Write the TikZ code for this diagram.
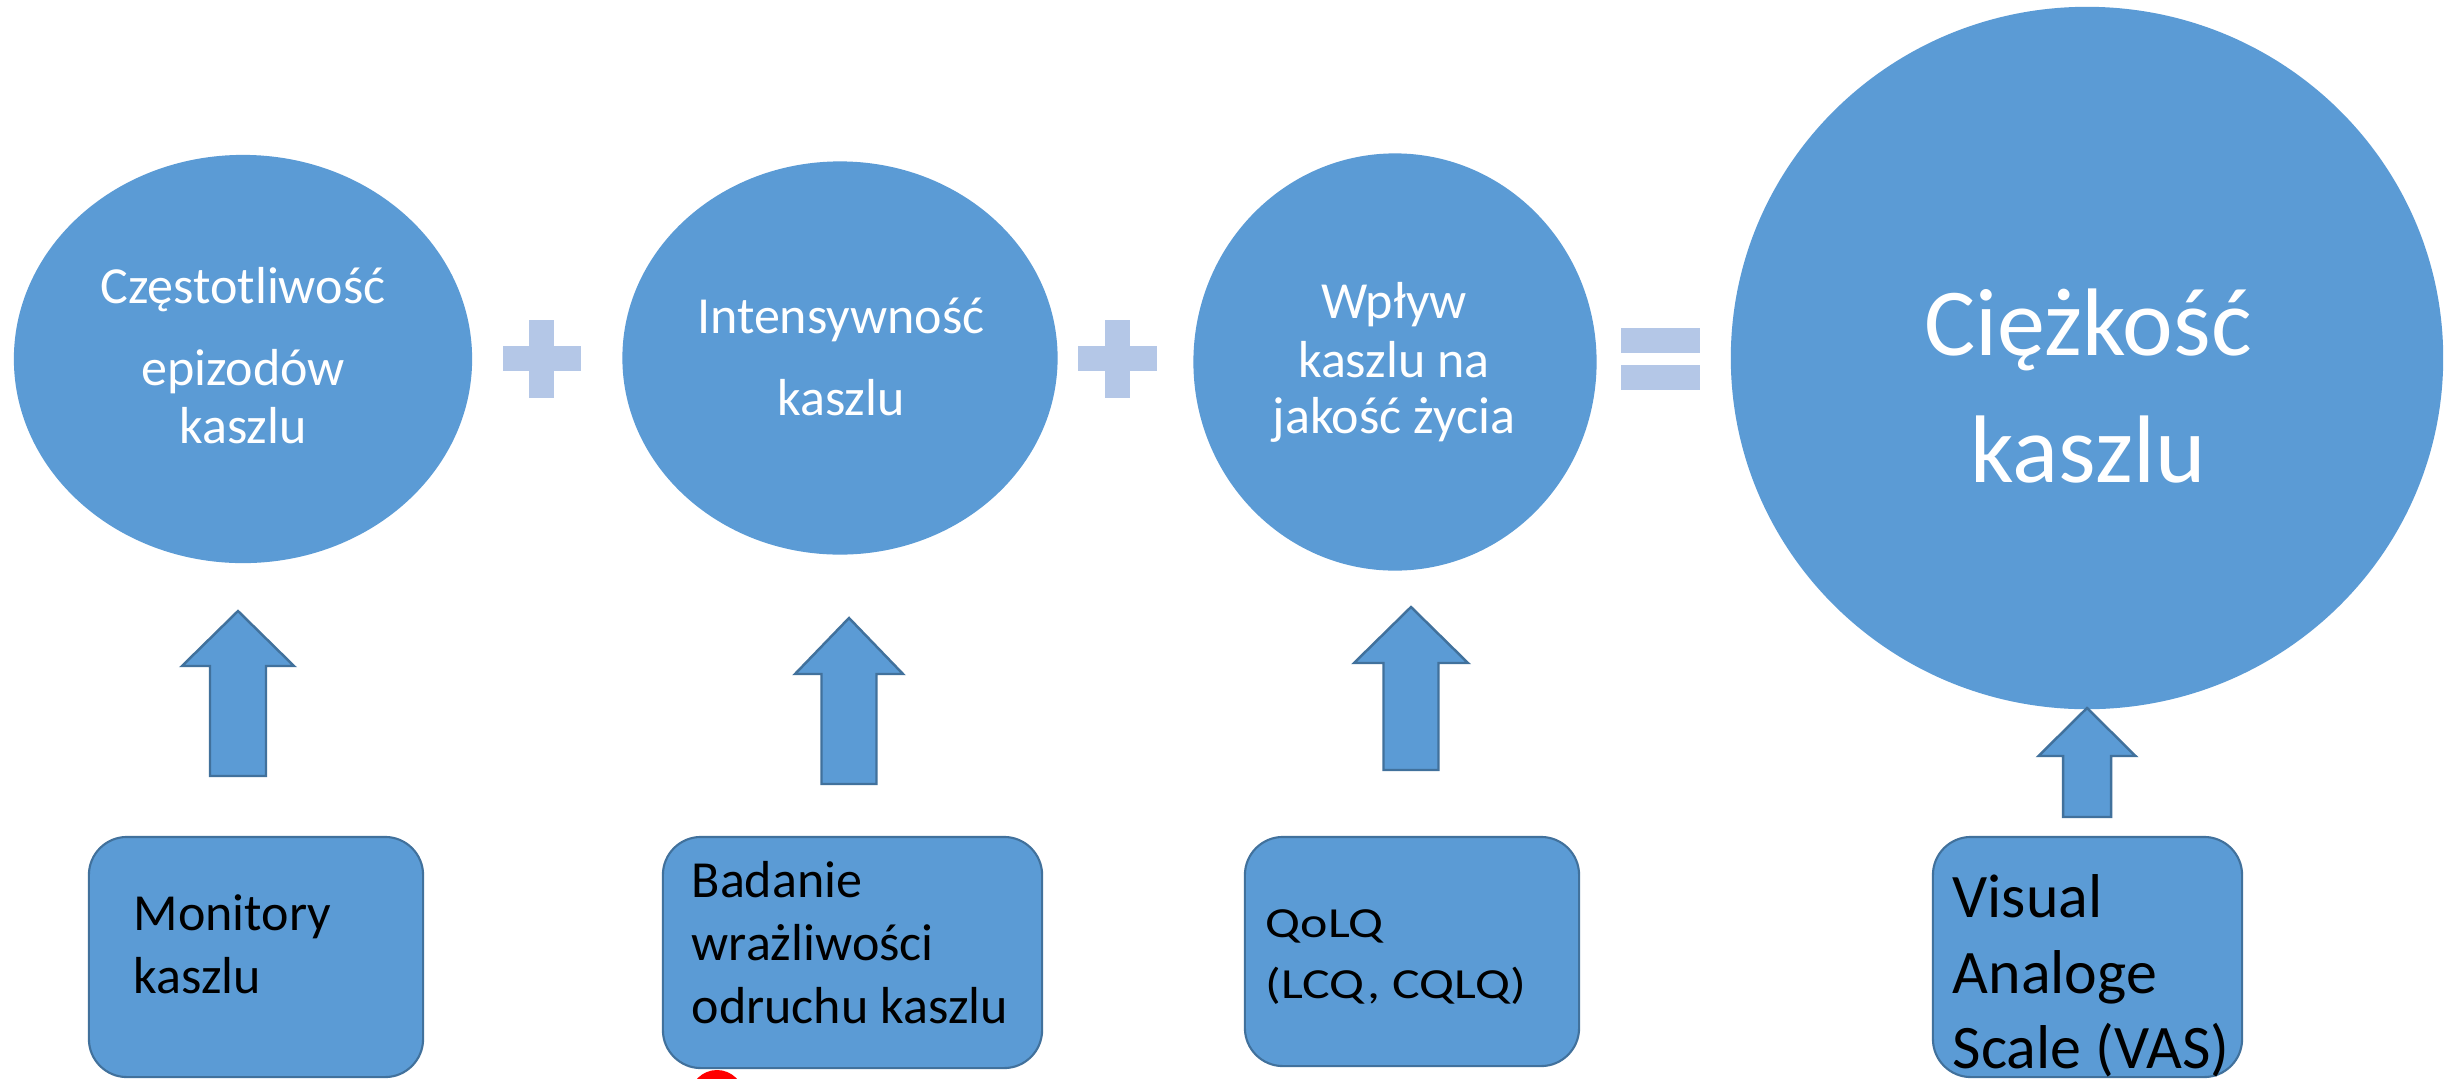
\documentclass[tikz,border=0pt]{standalone}
\usepackage{fontspec}
\setmainfont{Carlito}
\newfontfamily\widefont[FakeStretch=1.21]{Carlito}
\usetikzlibrary{shapes.geometric}
\definecolor{fillblue}{HTML}{5B9BD5}
\definecolor{lineblue}{HTML}{41719C}
\definecolor{pluscol}{HTML}{B4C7E7}
\newcommand{\blockup}[6]{\draw[blockarrow] (#1-#6,#4) -- (#1-#6,#3) -- (#1-#5,#3) -- (#1,#2) -- (#1+#5,#3) -- (#1+#6,#3) -- (#1+#6,#4) -- cycle;}
\begin{document}
\begin{tikzpicture}[x=0.01cm,y=-0.01cm,
  circ/.style={ellipse, fill=fillblue, draw=none, inner sep=0pt},
  boxnode/.style={rectangle, rounded corners=0.38cm, fill=fillblue, draw=lineblue, line width=0.6pt, inner sep=0pt},
  wtxt/.style={anchor=base, text=white, inner sep=0pt, font=\fontsize{14.8}{17}\selectfont},
  bigtxt/.style={anchor=base, text=white, inner sep=0pt, font=\fontsize{27.3}{32}\selectfont},
  btxt/.style={anchor=base west, text=black, inner sep=0pt, font=\fontsize{14.8}{17}\selectfont},
  btxtw/.style={anchor=base west, text=black, inner sep=0pt, font=\widefont\fontsize{12.2}{14}\selectfont},
  btxtl/.style={anchor=base west, text=black, inner sep=0pt, font=\fontsize{17.6}{20}\selectfont},
  blockarrow/.style={fill=fillblue, draw=lineblue, line width=0.7pt, line join=miter},
  signpart/.style={fill=pluscol, draw=none}]
\clip (0,0) rectangle (2448,1078);
\fill[white] (0,0) rectangle (2448,1078);

% circles
\node[circ, minimum width=4.58cm, minimum height=4.08cm] (c1) at (243,359) {};
\node[circ, minimum width=4.35cm, minimum height=3.93cm] (c2) at (840,358) {};
\node[circ, minimum width=4.03cm, minimum height=4.17cm] (c3) at (1395,362) {};
\node[circ, minimum width=7.12cm, minimum height=7.02cm] (c4) at (2087,358) {};

% circle texts
\node[wtxt] (t1a) at (243,303) {Częstotliwość};
\node[wtxt] (t1b) at (243,385) {epizodów};
\node[wtxt] (t1c) at (243,443) {kaszlu};
\node[wtxt] (t2a) at (841,333) {Intensywność};
\node[wtxt] (t2b) at (841,415) {kaszlu};
\node[wtxt] (t3a) at (1394,318) {Wpływ};
\node[wtxt] (t3b) at (1394,377) {kaszlu na};
\node[wtxt] (t3c) at (1394,433) {jakość życia};
\node[bigtxt] (t4a) at (2088,355) {Ciężkość};
\node[bigtxt] (t4b) at (2088,482) {kaszlu};

% plus and equals signs
\fill[signpart] (529,320) rectangle (554,398);
\fill[signpart] (503,346) rectangle (581,371);
\fill[signpart] (1105,320) rectangle (1130,398);
\fill[signpart] (1078,346) rectangle (1157,371);
\fill[signpart] (1621,328) rectangle (1700,353);
\fill[signpart] (1621,365) rectangle (1700,390);

% boxes
\node[boxnode, minimum width=3.34cm, minimum height=2.40cm] (b1) at (256,957) {};
\node[boxnode, minimum width=3.79cm, minimum height=2.31cm] (b2) at (852.5,952.5) {};
\node[boxnode, minimum width=3.34cm, minimum height=2.29cm] (b3) at (1412,951.5) {};
\node[boxnode, minimum width=3.09cm, minimum height=2.40cm] (b4) at (2087.5,957) {};

% box texts
\node[btxt] (m1a) at (133,930) {Monitory};
\node[btxt] (m1b) at (133,993) {kaszlu};
\node[btxt] (m2a) at (691,897) {Badanie};
\node[btxt] (m2b) at (691,960) {wrażliwości};
\node[btxt] (m2c) at (691,1023) {odruchu kaszlu};
\node[btxtw] (m3a) at (1265,937) {QoLQ};
\node[btxtw] (m3b) at (1265,998) {(LCQ, CQLQ)};
\node[btxtl] (m4a) at (1952,917) {Visual};
\node[btxtl] (m4b) at (1952,993) {Analoge};
\node[btxtl] (m4c) at (1952,1068) {Scale (VAS)};

% block arrows (cx, tip, headbase, bottom, half head, half shaft)
\blockup{238}{611}{666}{776}{56}{28}
\blockup{849}{618}{674}{784}{54}{27.5}
\blockup{1411}{607}{663}{770}{57}{27.5}
\blockup{2087}{708}{756}{817}{48.5}{24}

% red mark
\fill[red] (717,1097) circle (27);
\end{tikzpicture}
\end{document}
